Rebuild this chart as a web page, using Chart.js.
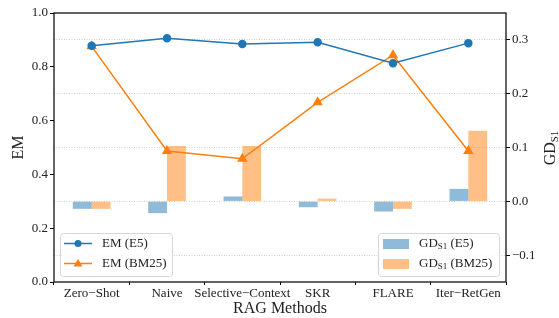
<!DOCTYPE html>
<html>
<head>
<meta charset="utf-8">
<script src="https://cdn.jsdelivr.net/npm/chart.js@4"></script>
<style>
  html, body { margin: 0; padding: 0; background: #fff; }
  #wrap { width: 559px; height: 318px; }
</style>
</head>
<body>
<div id="wrap"><canvas id="ragChart"></canvas></div>
<script>
// data
const methods = ['Zero\u2212Shot', 'Naive', 'Selective\u2212Context', 'SKR', 'FLARE', 'Iter\u2212RetGen'];
const emE5 = [0.878, 0.906, 0.885, 0.891, 0.813, 0.888];
const emBM25 = [0.876, 0.487, 0.458, 0.668, 0.843, 0.487];
const gdE5 = [-0.014, -0.022, 0.009, -0.011, -0.019, 0.023];
const gdBM25 = [-0.014, 0.103, 0.103, 0.005, -0.014, 0.131];
const emTicks = [0.0, 0.2, 0.4, 0.6, 0.8, 1.0];
const gdTicks = [-0.1, 0.0, 0.1, 0.2, 0.3];

const BLUE = '#1f77b4';
const ORANGE = '#ff7f0e';
const SERIF = '"Liberation Serif", "DejaVu Serif", serif';

const fmt = v => {
  if (Math.abs(v) < 1e-9) v = 0;
  const s = Math.abs(v).toFixed(1);
  return v < 0 ? '\u2212' + s : s;
};

// frame, right title with subscript, and the two legends
const extras = {
  id: 'extras',
  afterDraw(chart) {
    const ctx = chart.ctx;
    const a = chart.chartArea;
    ctx.save();
    ctx.strokeStyle = '#111';
    ctx.lineWidth = 1.3;
    ctx.strokeRect(a.left, a.top, a.right - a.left, a.bottom - a.top);

    // right axis title GD_S1
    ctx.translate(551, 148);
    ctx.rotate(-Math.PI / 2);
    ctx.fillStyle = '#222';
    ctx.textBaseline = 'middle';
    ctx.font = '16px ' + SERIF;
    const w1 = ctx.measureText('GD').width;
    ctx.font = '11px ' + SERIF;
    const w2 = ctx.measureText('S1').width;
    let x0 = -(w1 + w2) / 2;
    ctx.font = '16px ' + SERIF;
    ctx.fillText('GD', x0, 0);
    ctx.font = '11px ' + SERIF;
    ctx.fillText('S1', x0 + w1, 4);
    ctx.restore();

    const box = (x, y, w, h) => {
      ctx.save();
      ctx.beginPath();
      ctx.roundRect(x, y, w, h, 3);
      ctx.fillStyle = 'rgba(255,255,255,0.85)';
      ctx.fill();
      ctx.strokeStyle = '#d6d6d6';
      ctx.lineWidth = 1;
      ctx.stroke();
      ctx.restore();
    };

    // line legend
    box(60.5, 233.5, 112, 43);
    const lineItems = [
      { label: 'EM (E5)', color: BLUE, style: 'circle', y: 243.5 },
      { label: 'EM (BM25)', color: ORANGE, style: 'triangle', y: 263.5 }
    ];
    ctx.save();
    lineItems.forEach(it => {
      ctx.strokeStyle = it.color;
      ctx.fillStyle = it.color;
      ctx.lineWidth = 1.5;
      ctx.beginPath();
      ctx.moveTo(64, it.y);
      ctx.lineTo(92, it.y);
      ctx.stroke();
      ctx.beginPath();
      if (it.style === 'circle') {
        ctx.arc(78, it.y, 3.5, 0, Math.PI * 2);
      } else {
        ctx.moveTo(78, it.y - 4.5);
        ctx.lineTo(82.5, it.y + 3);
        ctx.lineTo(73.5, it.y + 3);
        ctx.closePath();
      }
      ctx.fill();
      ctx.fillStyle = '#222';
      ctx.font = '13px ' + SERIF;
      ctx.textBaseline = 'middle';
      ctx.fillText(it.label, 102, it.y);
    });
    ctx.restore();

    // bar legend
    box(378.5, 233.5, 121, 43);
    const barItems = [
      { tail: ' (E5)', color: 'rgba(31,119,180,0.5)', y: 244 },
      { tail: ' (BM25)', color: 'rgba(255,127,14,0.5)', y: 264 }
    ];
    ctx.save();
    barItems.forEach(it => {
      ctx.fillStyle = it.color;
      ctx.fillRect(383, it.y - 5, 26, 10);
      ctx.fillStyle = '#222';
      ctx.textBaseline = 'middle';
      ctx.font = '13px ' + SERIF;
      let x = 419;
      ctx.fillText('GD', x, it.y);
      x += ctx.measureText('GD').width;
      ctx.font = '9px ' + SERIF;
      ctx.fillText('S1', x, it.y + 3);
      x += ctx.measureText('S1').width;
      ctx.font = '13px ' + SERIF;
      ctx.fillText(it.tail, x, it.y);
    });
    ctx.restore();
  }
};

const ctx = document.getElementById('ragChart').getContext('2d');
new Chart(ctx, {
  type: 'bar',
  data: {
    labels: methods,
    datasets: [
      {
        type: 'line', label: 'EM (E5)', data: emE5, yAxisID: 'y', order: 0,
        borderColor: BLUE, backgroundColor: BLUE, borderWidth: 1.5,
        pointStyle: 'circle', pointRadius: 3.5, tension: 0
      },
      {
        type: 'line', label: 'EM (BM25)', data: emBM25, yAxisID: 'y', order: 0,
        borderColor: ORANGE, backgroundColor: ORANGE, borderWidth: 1.5,
        pointStyle: 'triangle', pointRadius: 4.5, tension: 0
      },
      {
        label: 'GD_S1 (E5)', data: gdE5, yAxisID: 'y1', order: 1,
        backgroundColor: 'rgba(31,119,180,0.5)',
        categoryPercentage: 0.5, barPercentage: 1.0
      },
      {
        label: 'GD_S1 (BM25)', data: gdBM25, yAxisID: 'y1', order: 1,
        backgroundColor: 'rgba(255,127,14,0.5)',
        categoryPercentage: 0.5, barPercentage: 1.0
      }
    ]
  },
  options: {
    responsive: true,
    maintainAspectRatio: false,
    animation: false,
    layout: { padding: { top: 13, left: 0, right: 0, bottom: 0 } },
    plugins: { legend: { display: false }, tooltip: { enabled: false } },
    scales: {
      x: {
        offset: true,
        afterFit(s) { s.height = 36; },
        grid: { display: true, drawOnChartArea: false, drawTicks: true, tickLength: 3, tickColor: '#000', color: '#000' },
        border: { display: false },
        ticks: { color: '#222', font: { family: SERIF, size: 13 }, padding: 1, maxRotation: 0, autoSkip: false },
        title: { display: true, text: 'RAG Methods', color: '#222', font: { family: SERIF, size: 16 }, padding: { top: 0, bottom: 0 } }
      },
      y: {
        position: 'left',
        min: 0, max: 1,
        afterFit(s) { s.width = 54; },
        afterBuildTicks(s) { s.ticks = emTicks.map(v => ({ value: v })); },
        grid: { display: true, drawOnChartArea: false, drawTicks: true, tickLength: 4, tickColor: '#000', color: '#000' },
        border: { display: false },
        ticks: { color: '#222', font: { family: SERIF, size: 13 }, padding: 2, callback: v => fmt(v) },
        title: { display: true, text: 'EM', color: '#222', font: { family: SERIF, size: 16 }, padding: { top: 9, bottom: 0 } }
      },
      y1: {
        position: 'right',
        min: -0.15, max: 0.35,
        afterFit(s) { s.width = 53; },
        afterBuildTicks(s) { s.ticks = gdTicks.map(v => ({ value: v })); },
        grid: {
          display: true, drawOnChartArea: true, drawTicks: true, tickLength: 4,
          color: '#c4c4c4', lineWidth: 0.8, tickColor: '#000', tickWidth: 1, tickBorderDash: []
        },
        border: { display: false, dash: [1, 1.5] },
        ticks: { color: '#222', font: { family: SERIF, size: 13 }, padding: 2, callback: v => fmt(v) }
      }
    }
  },
  plugins: [extras]
});
</script>
</body>
</html>
